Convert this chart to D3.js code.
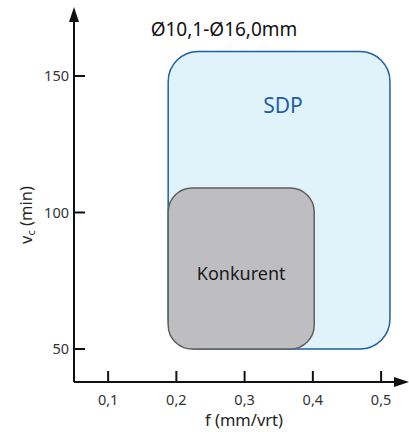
<!DOCTYPE html>
<html>
<head>
<meta charset="utf-8">
<script src="https://cdn.jsdelivr.net/npm/d3@7"></script>
<style>
body { margin: 0; background: #fff; }
svg text { font-family: "Noto Sans", "Open Sans", sans-serif; }
</style>
</head>
<body>
<div id="chart"></div>
<script>
// axis ticks
var xTicks = [0.1, 0.2, 0.3, 0.4, 0.5];
var xTickLabels = ['0,1', '0,2', '0,3', '0,4', '0,5'];
var yTicks = [50, 100, 150];
// regions: name, f range, vc range
var regionNames = ['SDP', 'Konkurent'];
var regionF = [[0.188, 0.513], [0.188, 0.402]];
var regionVc = [[50, 159], [50, 109]];
var title = 'Ø10,1-Ø16,0mm';

var width = 409, height = 432;
var x = d3.scaleLinear().domain([0.05, 0.5]).range([74, 381.1]);
var y = d3.scaleLinear().domain([50, 150]).range([349, 76]);
var x0 = 74, y0 = 382;

var svg = d3.select('#chart').append('svg')
    .attr('width', width)
    .attr('height', height);

// regions
var fills = ['#e0f3fb', '#bebec0'];
var strokes = ['#1f5ea8', '#5f5f62'];
var radii = [30, 24];
regionNames.forEach(function(n, i) {
    svg.append('rect')
        .attr('x', x(regionF[i][0]))
        .attr('y', y(regionVc[i][1]))
        .attr('width', x(regionF[i][1]) - x(regionF[i][0]))
        .attr('height', y(regionVc[i][0]) - y(regionVc[i][1]))
        .attr('rx', radii[i])
        .style('fill', fills[i])
        .style('stroke', strokes[i])
        .style('stroke-width', 1.5);
});
svg.append('text')
    .attr('x', 283).attr('y', y(139) + 7)
    .attr('text-anchor', 'middle')
    .style('font-size', '21px')
    .style('fill', '#1f5ea8')
    .text(regionNames[0]);
svg.append('text')
    .attr('x', (x(regionF[1][0]) + x(regionF[1][1])) / 2).attr('y', y(78) + 7)
    .attr('text-anchor', 'middle')
    .style('font-size', '18px')
    .style('fill', '#1a1a1a')
    .text(regionNames[1]);

// axes
svg.append('line').attr('x1', x0).attr('x2', 400).attr('y1', y0).attr('y2', y0)
    .style('stroke', '#111').style('stroke-width', 2);
svg.append('line').attr('x1', x0).attr('x2', x0).attr('y1', y0).attr('y2', 16)
    .style('stroke', '#111').style('stroke-width', 2);
svg.append('path').attr('d', 'M' + x0 + ',7 L' + (x0 - 5) + ',22 L' + (x0 + 5) + ',22 Z')
    .style('fill', '#111');
svg.append('path').attr('d', 'M409,' + y0 + ' L394,' + (y0 - 5) + ' L394,' + (y0 + 5) + ' Z')
    .style('fill', '#111');

svg.selectAll('.xtick').data(xTicks).enter().append('line')
    .attr('x1', function(d) { return x(d); })
    .attr('x2', function(d) { return x(d); })
    .attr('y1', y0).attr('y2', y0 - 11)
    .style('stroke', '#111').style('stroke-width', 2);
svg.selectAll('.xlab').data(xTicks).enter().append('text')
    .attr('x', function(d) { return x(d); })
    .attr('y', 405)
    .attr('text-anchor', 'middle')
    .style('font-size', '14.5px')
    .style('fill', '#333')
    .text(function(d, i) { return xTickLabels[i]; });

svg.selectAll('.ytick').data(yTicks).enter().append('line')
    .attr('x1', x0).attr('x2', x0 + 11)
    .attr('y1', function(d) { return y(d); })
    .attr('y2', function(d) { return y(d); })
    .style('stroke', '#111').style('stroke-width', 2);
svg.selectAll('.ylab').data(yTicks).enter().append('text')
    .attr('x', 69)
    .attr('y', function(d) { return y(d) + 5; })
    .attr('text-anchor', 'end')
    .style('font-size', '14.5px')
    .style('fill', '#333')
    .text(function(d) { return d; });

// axis labels
svg.append('text')
    .attr('x', 244).attr('y', 426)
    .attr('text-anchor', 'middle')
    .style('font-size', '16.5px')
    .style('fill', '#222')
    .text('f (mm/vrt)');
var yl = svg.append('text')
    .attr('transform', 'translate(32,215) rotate(-90)')
    .attr('text-anchor', 'middle')
    .style('font-size', '16.5px')
    .style('fill', '#222');
yl.append('tspan').text('v');
yl.append('tspan').style('font-size', '11px').attr('dy', 3).text('c');
yl.append('tspan').attr('dy', -3).text(' (min)');

// title
svg.append('text')
    .attr('x', 224).attr('y', 36)
    .attr('text-anchor', 'middle')
    .style('font-size', '19px')
    .style('fill', '#111')
    .text(title);
</script>
</body>
</html>
